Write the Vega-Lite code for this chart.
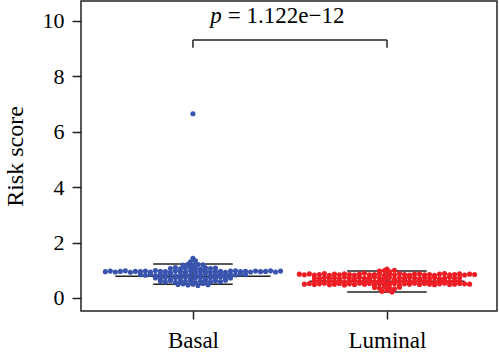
{
  "$schema": "https://vega.github.io/schema/vega-lite/v6.json",
  "autosize": "none",
  "padding": {"left": 81, "top": 1, "right": 3, "bottom": 48},
  "width": 416,
  "height": 310,
  "background": "white",
  "config": {
    "view": {"stroke": "#222222", "strokeWidth": 1.5},
    "font": "Liberation Serif",
    "text": {"font": "Liberation Serif"},
    "axis": {"grid": false, "tickColor": "#222222", "labelColor": "black", "titleColor": "black", "labelFont": "Liberation Serif", "titleFont": "Liberation Serif", "titleFontWeight": "normal"}
  },
  "datasets": {
    "scores": [
      {"group": "Basal", "score": 6.65},
      {"group": "Basal", "score": 1.43},
      {"group": "Basal", "score": 1.31}, {"group": "Basal", "score": 1.34},
      {"group": "Basal", "score": 1.19}, {"group": "Basal", "score": 1.22}, {"group": "Basal", "score": 1.18}, {"group": "Basal", "score": 1.21}, {"group": "Basal", "score": 1.20},
      {"group": "Basal", "score": 1.06}, {"group": "Basal", "score": 1.10}, {"group": "Basal", "score": 1.05}, {"group": "Basal", "score": 1.08}, {"group": "Basal", "score": 1.11}, {"group": "Basal", "score": 1.07}, {"group": "Basal", "score": 1.04}, {"group": "Basal", "score": 1.09}, {"group": "Basal", "score": 1.06}, {"group": "Basal", "score": 1.08},
      {"group": "Basal", "score": 0.95}, {"group": "Basal", "score": 0.97}, {"group": "Basal", "score": 0.94}, {"group": "Basal", "score": 0.96}, {"group": "Basal", "score": 0.98}, {"group": "Basal", "score": 0.93}, {"group": "Basal", "score": 0.96}, {"group": "Basal", "score": 0.95}, {"group": "Basal", "score": 0.97}, {"group": "Basal", "score": 0.94}, {"group": "Basal", "score": 0.99}, {"group": "Basal", "score": 0.96}, {"group": "Basal", "score": 0.95}, {"group": "Basal", "score": 0.93}, {"group": "Basal", "score": 0.97}, {"group": "Basal", "score": 0.96}, {"group": "Basal", "score": 0.94}, {"group": "Basal", "score": 0.98}, {"group": "Basal", "score": 0.95}, {"group": "Basal", "score": 0.96}, {"group": "Basal", "score": 0.97}, {"group": "Basal", "score": 0.94}, {"group": "Basal", "score": 0.95}, {"group": "Basal", "score": 0.96}, {"group": "Basal", "score": 0.93}, {"group": "Basal", "score": 0.97}, {"group": "Basal", "score": 0.98}, {"group": "Basal", "score": 0.95}, {"group": "Basal", "score": 0.96}, {"group": "Basal", "score": 0.94}, {"group": "Basal", "score": 0.97}, {"group": "Basal", "score": 0.95}, {"group": "Basal", "score": 0.96}, {"group": "Basal", "score": 0.98}, {"group": "Basal", "score": 0.94}, {"group": "Basal", "score": 0.97},
      {"group": "Basal", "score": 0.84}, {"group": "Basal", "score": 0.82}, {"group": "Basal", "score": 0.86}, {"group": "Basal", "score": 0.81}, {"group": "Basal", "score": 0.85}, {"group": "Basal", "score": 0.83}, {"group": "Basal", "score": 0.87}, {"group": "Basal", "score": 0.80}, {"group": "Basal", "score": 0.84}, {"group": "Basal", "score": 0.86}, {"group": "Basal", "score": 0.82}, {"group": "Basal", "score": 0.85}, {"group": "Basal", "score": 0.83}, {"group": "Basal", "score": 0.88}, {"group": "Basal", "score": 0.81}, {"group": "Basal", "score": 0.84}, {"group": "Basal", "score": 0.86}, {"group": "Basal", "score": 0.82}, {"group": "Basal", "score": 0.85}, {"group": "Basal", "score": 0.83}, {"group": "Basal", "score": 0.87}, {"group": "Basal", "score": 0.84},
      {"group": "Basal", "score": 0.72}, {"group": "Basal", "score": 0.70}, {"group": "Basal", "score": 0.74}, {"group": "Basal", "score": 0.69}, {"group": "Basal", "score": 0.73}, {"group": "Basal", "score": 0.71}, {"group": "Basal", "score": 0.75}, {"group": "Basal", "score": 0.68}, {"group": "Basal", "score": 0.72}, {"group": "Basal", "score": 0.74}, {"group": "Basal", "score": 0.70}, {"group": "Basal", "score": 0.73}, {"group": "Basal", "score": 0.71}, {"group": "Basal", "score": 0.76}, {"group": "Basal", "score": 0.69}, {"group": "Basal", "score": 0.72},
      {"group": "Basal", "score": 0.60}, {"group": "Basal", "score": 0.58}, {"group": "Basal", "score": 0.62}, {"group": "Basal", "score": 0.57}, {"group": "Basal", "score": 0.61}, {"group": "Basal", "score": 0.59}, {"group": "Basal", "score": 0.63}, {"group": "Basal", "score": 0.56}, {"group": "Basal", "score": 0.60}, {"group": "Basal", "score": 0.62}, {"group": "Basal", "score": 0.58}, {"group": "Basal", "score": 0.61}, {"group": "Basal", "score": 0.59}, {"group": "Basal", "score": 0.64},
      {"group": "Basal", "score": 0.49}, {"group": "Basal", "score": 0.51}, {"group": "Basal", "score": 0.47}, {"group": "Basal", "score": 0.50}, {"group": "Basal", "score": 0.45}, {"group": "Basal", "score": 0.52}, {"group": "Basal", "score": 0.48},
      {"group": "Luminal", "score": 1.04},
      {"group": "Luminal", "score": 0.97}, {"group": "Luminal", "score": 0.99}, {"group": "Luminal", "score": 0.95}, {"group": "Luminal", "score": 1.00},
      {"group": "Luminal", "score": 0.86}, {"group": "Luminal", "score": 0.84}, {"group": "Luminal", "score": 0.87}, {"group": "Luminal", "score": 0.83}, {"group": "Luminal", "score": 0.85}, {"group": "Luminal", "score": 0.88}, {"group": "Luminal", "score": 0.82}, {"group": "Luminal", "score": 0.86}, {"group": "Luminal", "score": 0.84}, {"group": "Luminal", "score": 0.87}, {"group": "Luminal", "score": 0.85}, {"group": "Luminal", "score": 0.83}, {"group": "Luminal", "score": 0.86}, {"group": "Luminal", "score": 0.89}, {"group": "Luminal", "score": 0.84}, {"group": "Luminal", "score": 0.85}, {"group": "Luminal", "score": 0.87}, {"group": "Luminal", "score": 0.82}, {"group": "Luminal", "score": 0.86}, {"group": "Luminal", "score": 0.84}, {"group": "Luminal", "score": 0.88}, {"group": "Luminal", "score": 0.85}, {"group": "Luminal", "score": 0.83}, {"group": "Luminal", "score": 0.86}, {"group": "Luminal", "score": 0.87}, {"group": "Luminal", "score": 0.84}, {"group": "Luminal", "score": 0.85}, {"group": "Luminal", "score": 0.82}, {"group": "Luminal", "score": 0.86}, {"group": "Luminal", "score": 0.88}, {"group": "Luminal", "score": 0.84}, {"group": "Luminal", "score": 0.85}, {"group": "Luminal", "score": 0.87}, {"group": "Luminal", "score": 0.83}, {"group": "Luminal", "score": 0.86}, {"group": "Luminal", "score": 0.85},
      {"group": "Luminal", "score": 0.72}, {"group": "Luminal", "score": 0.70}, {"group": "Luminal", "score": 0.74}, {"group": "Luminal", "score": 0.71}, {"group": "Luminal", "score": 0.73}, {"group": "Luminal", "score": 0.69}, {"group": "Luminal", "score": 0.75}, {"group": "Luminal", "score": 0.72}, {"group": "Luminal", "score": 0.70}, {"group": "Luminal", "score": 0.74}, {"group": "Luminal", "score": 0.71}, {"group": "Luminal", "score": 0.73}, {"group": "Luminal", "score": 0.76}, {"group": "Luminal", "score": 0.72}, {"group": "Luminal", "score": 0.70}, {"group": "Luminal", "score": 0.74}, {"group": "Luminal", "score": 0.68}, {"group": "Luminal", "score": 0.73}, {"group": "Luminal", "score": 0.71}, {"group": "Luminal", "score": 0.75}, {"group": "Luminal", "score": 0.72}, {"group": "Luminal", "score": 0.70}, {"group": "Luminal", "score": 0.74}, {"group": "Luminal", "score": 0.71}, {"group": "Luminal", "score": 0.73}, {"group": "Luminal", "score": 0.69}, {"group": "Luminal", "score": 0.72}, {"group": "Luminal", "score": 0.75}, {"group": "Luminal", "score": 0.71}, {"group": "Luminal", "score": 0.73},
      {"group": "Luminal", "score": 0.60}, {"group": "Luminal", "score": 0.62}, {"group": "Luminal", "score": 0.58}, {"group": "Luminal", "score": 0.61}, {"group": "Luminal", "score": 0.59}, {"group": "Luminal", "score": 0.63}, {"group": "Luminal", "score": 0.57}, {"group": "Luminal", "score": 0.60}, {"group": "Luminal", "score": 0.62}, {"group": "Luminal", "score": 0.58}, {"group": "Luminal", "score": 0.61}, {"group": "Luminal", "score": 0.64}, {"group": "Luminal", "score": 0.59}, {"group": "Luminal", "score": 0.60}, {"group": "Luminal", "score": 0.62}, {"group": "Luminal", "score": 0.56}, {"group": "Luminal", "score": 0.61}, {"group": "Luminal", "score": 0.59}, {"group": "Luminal", "score": 0.63}, {"group": "Luminal", "score": 0.60}, {"group": "Luminal", "score": 0.58}, {"group": "Luminal", "score": 0.62}, {"group": "Luminal", "score": 0.61}, {"group": "Luminal", "score": 0.59}, {"group": "Luminal", "score": 0.57}, {"group": "Luminal", "score": 0.60}, {"group": "Luminal", "score": 0.63}, {"group": "Luminal", "score": 0.58}, {"group": "Luminal", "score": 0.61}, {"group": "Luminal", "score": 0.60},
      {"group": "Luminal", "score": 0.50}, {"group": "Luminal", "score": 0.52}, {"group": "Luminal", "score": 0.49}, {"group": "Luminal", "score": 0.51}, {"group": "Luminal", "score": 0.53}, {"group": "Luminal", "score": 0.48}, {"group": "Luminal", "score": 0.50}, {"group": "Luminal", "score": 0.52}, {"group": "Luminal", "score": 0.47}, {"group": "Luminal", "score": 0.51}, {"group": "Luminal", "score": 0.49}, {"group": "Luminal", "score": 0.53}, {"group": "Luminal", "score": 0.50}, {"group": "Luminal", "score": 0.52}, {"group": "Luminal", "score": 0.48}, {"group": "Luminal", "score": 0.51}, {"group": "Luminal", "score": 0.50}, {"group": "Luminal", "score": 0.49}, {"group": "Luminal", "score": 0.52}, {"group": "Luminal", "score": 0.46}, {"group": "Luminal", "score": 0.51}, {"group": "Luminal", "score": 0.50}, {"group": "Luminal", "score": 0.53}, {"group": "Luminal", "score": 0.49}, {"group": "Luminal", "score": 0.52}, {"group": "Luminal", "score": 0.50}, {"group": "Luminal", "score": 0.48}, {"group": "Luminal", "score": 0.51}, {"group": "Luminal", "score": 0.53}, {"group": "Luminal", "score": 0.49}, {"group": "Luminal", "score": 0.50}, {"group": "Luminal", "score": 0.52}, {"group": "Luminal", "score": 0.51}, {"group": "Luminal", "score": 0.50},
      {"group": "Luminal", "score": 0.38}, {"group": "Luminal", "score": 0.35}, {"group": "Luminal", "score": 0.40}, {"group": "Luminal", "score": 0.36}, {"group": "Luminal", "score": 0.33}, {"group": "Luminal", "score": 0.39},
      {"group": "Luminal", "score": 0.24}, {"group": "Luminal", "score": 0.28}, {"group": "Luminal", "score": 0.22}
    ],
    "summary": [
      {"group": "Basal", "center": 0.78, "low": 0.5, "high": 1.23},
      {"group": "Luminal", "center": 0.6, "low": 0.22, "high": 0.97}
    ],
    "test": [
      {"from": "Basal", "to": "Luminal", "label": "p", "pvalue": "= 1.122e\u221212"}
    ]
  },
  "resolve": {"axis": {"x": "shared", "y": "shared"}},
  "layer": [
    {
      "data": {"name": "summary"},
      "transform": [
        {"calculate": "datum.group === 'Basal' ? 0 : 1", "as": "gi"},
        {"calculate": "datum.gi - 0.40", "as": "xa"},
        {"calculate": "datum.gi + 0.40", "as": "xb"}
      ],
      "mark": {"type": "rule", "color": "#222222", "strokeWidth": 1.5},
      "encoding": {
        "x": {
          "field": "xa", "type": "quantitative",
          "scale": {"domain": [-0.577, 1.567], "nice": false, "zero": false},
          "axis": {"values": [0, 1], "labelExpr": "datum.value === 0 ? 'Basal' : 'Luminal'", "title": null, "tickSize": 8, "tickWidth": 1.5, "labelFontSize": 23, "labelPadding": 10, "domain": false, "grid": false}
        },
        "x2": {"field": "xb"},
        "y": {
          "field": "center", "type": "quantitative",
          "scale": {"domain": [-0.47, 10.72], "nice": false, "zero": false},
          "axis": {"values": [0, 2, 4, 6, 8, 10], "title": "Risk score", "tickSize": 9, "tickWidth": 1.5, "labelFontSize": 22, "labelPadding": 8, "titleFontSize": 24, "titleX": -59, "titleY": 155, "titleBaseline": "alphabetic", "titleAngle": -90, "domain": false, "grid": false}
        }
      }
    },
    {
      "data": {"name": "summary"},
      "transform": [
        {"calculate": "datum.group === 'Basal' ? 0 : 1", "as": "gi"},
        {"fold": ["low", "high"], "as": ["stat", "val"]},
        {"calculate": "datum.gi - 0.205", "as": "xa"},
        {"calculate": "datum.gi + 0.205", "as": "xb"}
      ],
      "mark": {"type": "rule", "color": "#222222", "strokeWidth": 1.5},
      "encoding": {
        "x": {"field": "xa", "type": "quantitative"},
        "x2": {"field": "xb"},
        "y": {"field": "val", "type": "quantitative"}
      }
    },
    {
      "data": {"name": "summary"},
      "transform": [
        {"calculate": "datum.group === 'Basal' ? 0 : 1", "as": "gi"}
      ],
      "mark": {"type": "rule", "color": "#222222", "strokeWidth": 1.5},
      "encoding": {
        "x": {"field": "gi", "type": "quantitative"},
        "y": {"field": "low", "type": "quantitative"},
        "y2": {"field": "high"}
      }
    },
    {
      "data": {"name": "scores"},
      "transform": [
        {"calculate": "datum.group === 'Basal' ? 0 : 1", "as": "gi"},
        {"calculate": "round(datum.score / 0.12)", "as": "row"},
        {"window": [{"op": "row_number", "as": "rank"}], "groupby": ["group", "row"]},
        {"joinaggregate": [{"op": "count", "as": "n"}], "groupby": ["group", "row"]},
        {"calculate": "datum.gi + (datum.rank - 1 - (datum.n - 1) / 2) * 0.0258", "as": "xpos"}
      ],
      "mark": {"type": "circle", "size": 26, "opacity": 1},
      "encoding": {
        "x": {"field": "xpos", "type": "quantitative"},
        "y": {"field": "score", "type": "quantitative"},
        "color": {"field": "group", "type": "nominal", "scale": {"domain": ["Basal", "Luminal"], "range": ["#3954AE", "#EE1D23"]}, "legend": null}
      }
    },
    {
      "data": {"name": "test"},
      "mark": {"type": "rule", "color": "#222222", "strokeWidth": 1.5},
      "encoding": {
        "x": {"datum": 0, "type": "quantitative"},
        "x2": {"datum": 1},
        "y": {"datum": 9.31, "type": "quantitative"}
      }
    },
    {
      "data": {"name": "test"},
      "transform": [
        {"fold": ["from", "to"], "as": ["end", "grp"]},
        {"calculate": "datum.grp === 'Basal' ? 0 : 1", "as": "gi"}
      ],
      "mark": {"type": "rule", "color": "#222222", "strokeWidth": 1.5},
      "encoding": {
        "x": {"field": "gi", "type": "quantitative"},
        "y": {"datum": 9.03, "type": "quantitative"},
        "y2": {"datum": 9.31}
      }
    },
    {
      "data": {"name": "test"},
      "mark": {"type": "text", "font": "Liberation Serif", "fontSize": 23, "fontStyle": "italic", "align": "right", "baseline": "alphabetic", "color": "black"},
      "encoding": {
        "x": {"datum": 0.149, "type": "quantitative"},
        "y": {"datum": 9.93, "type": "quantitative"},
        "text": {"field": "label"}
      }
    },
    {
      "data": {"name": "test"},
      "mark": {"type": "text", "font": "Liberation Serif", "fontSize": 23, "align": "left", "baseline": "alphabetic", "dx": 6, "color": "black"},
      "encoding": {
        "x": {"datum": 0.149, "type": "quantitative"},
        "y": {"datum": 9.93, "type": "quantitative"},
        "text": {"field": "pvalue"}
      }
    }
  ]
}
